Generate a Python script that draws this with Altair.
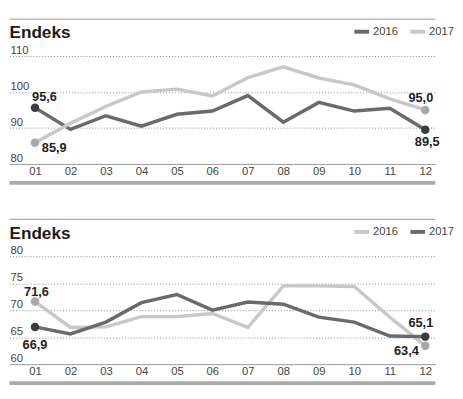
import altair as alt
import pandas as pd

FONT = "Liberation Sans"
SMALL_FONT = "Liberation Sans Narrow, Liberation Sans"

months = list(range(1, 13))
series_names = ["2016", "2017"]

# Upper panel (Endeks)
top_2016 = [95.6, 89.6, 93.4, 90.5, 93.8, 94.7, 99.0, 91.6, 97.1, 94.7, 95.5, 89.5]
top_2017 = [85.9, 91.3, 96.0, 100.0, 100.8, 98.9, 104.0, 107.0, 103.9, 102.0, 98.1, 95.0]
top_domain = [80, 110]
top_ticks = [80, 90, 100, 110]

# Lower panel (Endeks)
bot_2016 = [71.6, 66.8, 66.9, 68.8, 68.8, 69.4, 66.8, 74.5, 74.5, 74.4, 68.7, 63.4]
bot_2017 = [66.9, 65.6, 67.8, 71.4, 72.9, 70.0, 71.5, 71.1, 68.7, 67.8, 65.2, 65.1]
bot_domain = [60, 80]
bot_ticks = [60, 65, 70, 75, 80]

DARK_LINE, LIGHT_LINE = "#6a6a6a", "#c8c8c8"
DARK_DOT, LIGHT_DOT = "#3c3c3c", "#a8a8a8"

W, H = 434, 110


def fmt(v):
    return f"{v:.1f}".replace(".", ",")


def panel(v16, v17, domain, ticks, line_colors, dot_colors, label_specs):
    df = pd.DataFrame({
        "month": months * 2,
        "value": v16 + v17,
        "series": ["2016"] * 12 + ["2017"] * 12,
    })
    xs = alt.Scale(domain=[0.281, 12.285], nice=False, zero=False)
    ys = alt.Scale(domain=domain, nice=False, zero=False)
    xaxis = alt.Axis(values=months, format="02d", ticks=False, grid=False,
                     domainColor="#999", domainWidth=1, labelFontSize=11.5,
                     labelColor="#444", labelFont=SMALL_FONT, labelPadding=2,
                     labelFlush=False, title=None)
    yaxis = alt.Axis(values=ticks[1:], labels=False, ticks=False, domain=False,
                     grid=True, gridDash=[1, 2], gridColor="#888", gridWidth=1,
                     title=None)
    xenc = alt.X("month:Q", scale=xs, axis=xaxis)
    yenc = alt.Y("value:Q", scale=ys, axis=yaxis)

    lines = alt.Chart(df).mark_line(strokeWidth=3.5).encode(
        xenc, yenc,
        color=alt.Color("series:N",
                        scale=alt.Scale(domain=series_names, range=line_colors),
                        legend=alt.Legend(title=None, orient="none", legendX=349.5,
                                          legendY=-34.5, direction="horizontal",
                                          symbolType="stroke", symbolStrokeWidth=4,
                                          symbolSize=225, labelFontSize=11.5,
                                          labelColor="#444", labelFont=SMALL_FONT,
                                          labelOffset=2, columnPadding=4,
                                          padding=0)),
    )
    ends = df[df["month"].isin([1, 12])]
    dots = alt.Chart(ends).mark_circle(size=75, opacity=1).encode(
        xenc, yenc,
        fill=alt.Fill("series:N",
                      scale=alt.Scale(domain=series_names, range=dot_colors),
                      legend=None),
    )
    layers = [lines, dots]
    vals = {"2016": v16, "2017": v17}
    for (ser, idx), (align, dx, dy) in label_specs.items():
        row = pd.DataFrame({"month": [months[idx]], "value": [vals[ser][idx]],
                            "label": [fmt(vals[ser][idx])]})
        layers.append(alt.Chart(row).mark_text(
            align=align, baseline="alphabetic", dx=dx, dy=dy, fontSize=13,
            fontWeight="bold", font=FONT, color="#222").encode(
            xenc, yenc, text="label:N"))

    tick_df = pd.DataFrame({"value": ticks})
    layers.append(alt.Chart(tick_df).mark_text(
        align="left", baseline="alphabetic", dy=-2, fontSize=11.5, font=SMALL_FONT,
        color="#444").encode(x=alt.value(1), y=yenc, text=alt.Text("value:Q")))

    one = pd.DataFrame({"a": [0]})
    layers.append(alt.Chart(one).mark_rule(color="#999", strokeWidth=1).encode(
        x=alt.value(0), x2=alt.value(W), y=alt.value(-37.6)))
    layers.append(alt.Chart(one).mark_rect(color="#aaa").encode(
        x=alt.value(0), x2=alt.value(W), y=alt.value(H + 17.4), y2=alt.value(H + 21.2)))
    layers.append(alt.Chart(one).mark_text(
        text="Endeks", align="left", baseline="alphabetic", fontSize=17.5,
        fontWeight="bold", font=FONT, color="#1a1a1a").encode(
        x=alt.value(0), y=alt.value(-18)))

    return alt.layer(*layers).properties(width=W, height=H)


top = panel(top_2016, top_2017, top_domain, top_ticks,
            [DARK_LINE, LIGHT_LINE], [DARK_DOT, LIGHT_DOT],
            {("2016", 0): ("left", -3, -7),
             ("2017", 0): ("left", 7, 9.5),
             ("2017", 11): ("center", -4.5, -8.6),
             ("2016", 11): ("center", 2, 16.5)})
bottom = panel(bot_2016, bot_2017, bot_domain, bot_ticks,
               [LIGHT_LINE, DARK_LINE], [LIGHT_DOT, DARK_DOT],
               {("2016", 0): ("center", 1.5, -6),
                ("2017", 0): ("center", 0, 22.7),
                ("2017", 11): ("center", -4.5, -10),
                ("2016", 11): ("right", -6.6, 9)})

chart = alt.vconcat(top, bottom, spacing=94, bounds="flush").resolve_scale(
    y="independent", color="independent", fill="independent"
).properties(
    padding={"left": 0.5, "top": 6.3, "right": 0, "bottom": 0}
).configure_view(stroke=None)

chart.save("out.html", embed_options={"renderer": "svg", "actions": False})
